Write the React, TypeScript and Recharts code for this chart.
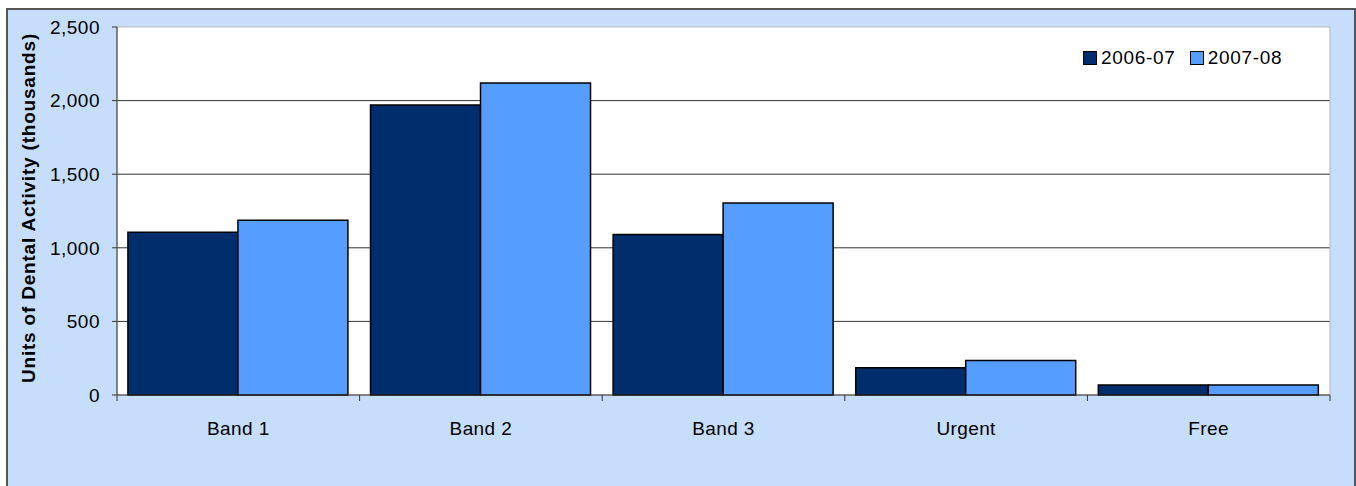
import React from 'react';
import { BarChart, Bar, XAxis, YAxis, CartesianGrid, ReferenceArea, Label } from 'recharts';

const categories = ['Band 1', 'Band 2', 'Band 3', 'Urgent', 'Free'];
const series0607 = [1105, 1970, 1090, 185, 68];
const series0708 = [1188, 2120, 1305, 235, 68];
const yTicks = [0, 500, 1000, 1500, 2000, 2500];
const seriesNames = ['2006-07', '2007-08'];
const seriesColors = ['#002D6B', '#559EFF'];

const data = categories.map((c, i) => ({ name: c, s0: series0607[i], s1: series0708[i] }));

const FONT = '"Liberation Sans", Arial, sans-serif';

const XTick = (props: any) => {
  const { x, y, payload, index } = props;
  const off = payload.offset || 0;
  const axisY = 395;
  return (
    <g>
      <line x1={x - off} x2={x - off} y1={axisY} y2={axisY + 6} stroke="#333" strokeWidth={1} />
      {index === categories.length - 1 && (
        <line x1={x + off} x2={x + off} y1={axisY} y2={axisY + 6} stroke="#333" strokeWidth={1} />
      )}
      <text x={x} y={y} dy="0.71em" textAnchor="middle" fontFamily={FONT} fontSize={19} fill="#000" letterSpacing={0.4}>
        {payload.value}
      </text>
    </g>
  );
};

const LegendBox = () => (
  <div style={{ position: 'absolute', left: 1083, top: 47, display: 'flex', alignItems: 'center', fontFamily: FONT, fontSize: 19, color: '#000', lineHeight: '22px' }}>
    {seriesNames.map((n, i) => (
      <div key={n} style={{ display: 'flex', alignItems: 'center', marginRight: i === 0 ? 14 : 0 }}>
        <span style={{ display: 'inline-block', width: 12, height: 12, background: seriesColors[i], border: '1.5px solid #000', marginRight: 4 }} />
        <span style={{ letterSpacing: 0.7 }}>{n}</span>
      </div>
    ))}
  </div>
);

export default function App() {
  return (
    <div style={{ position: 'fixed', left: 0, top: 0, width: 1356, height: 486, overflow: 'hidden' }}>
      <div style={{ position: 'absolute', left: 6, top: 8, width: 1346, height: 490, border: '2px solid #555', background: '#C6DEFB' }} />
      <div style={{ position: 'absolute', left: 0, top: 0 }}>
        <BarChart width={1356} height={486} data={data} margin={{ top: 27, right: 26, bottom: 61, left: 0 }} barCategoryGap="4.5%" barGap={0}>
          <CartesianGrid vertical={false} horizontalValues={[500, 1000, 1500, 2000]} stroke="#333" fill="#ffffff" fillOpacity={1} />
          <ReferenceArea y1={0} y2={2500} fill="none" stroke="#b8b8b8" strokeWidth={1} ifOverflow="visible" />
          <XAxis dataKey="name" height={30} axisLine={{ stroke: '#333' }} tickLine={false} tick={<XTick />} tickMargin={21} interval={0} />
          <YAxis width={117} domain={[0, 2500]} ticks={yTicks} interval={0} axisLine={{ stroke: '#333' }} tickLine={{ stroke: '#333' }} tickSize={5} tickMargin={12}
            tickFormatter={(v: number) => v.toLocaleString('en-US')}
            tick={{ fontFamily: FONT, fontSize: 19, fill: '#000', letterSpacing: 0.5 }}>
            <Label angle={-90} position="insideLeft" content={(p: any) => {
              const vb = p.viewBox;
              const cx = 28;
              const cy = vb.y + vb.height / 2 - 3;
              return (
                <text x={cx} y={cy} transform={`rotate(-90 ${cx} ${cy})`} textAnchor="middle" dominantBaseline="central" fontFamily={FONT} fontWeight="bold" fontSize={19} fill="#000" letterSpacing={0.8}>
                  Units of Dental Activity (thousands)
                </text>
              );
            }} />
          </YAxis>
          <Bar dataKey="s0" name={seriesNames[0]} fill={seriesColors[0]} stroke="#000" strokeWidth={1.5} isAnimationActive={false} />
          <Bar dataKey="s1" name={seriesNames[1]} fill={seriesColors[1]} stroke="#000" strokeWidth={1.5} isAnimationActive={false} />
        </BarChart>
      </div>
      <LegendBox />
    </div>
  );
}
